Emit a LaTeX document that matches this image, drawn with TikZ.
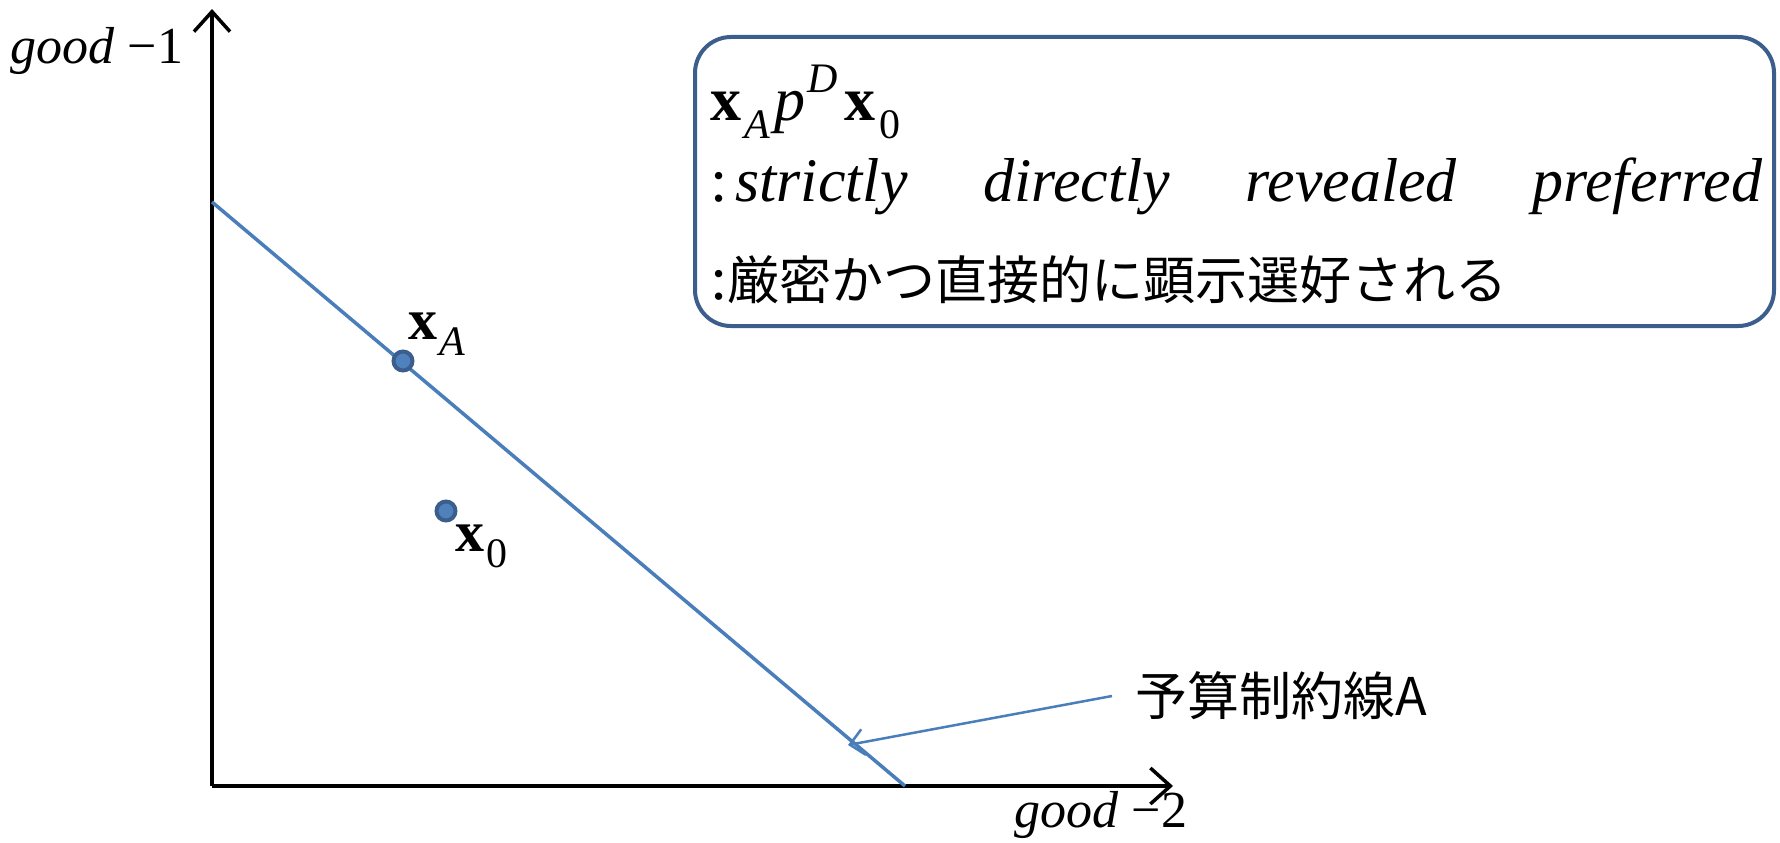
\documentclass[tikz,border=0pt]{standalone}
\usepackage{fontspec}
\setmainfont{Liberation Serif}
\newfontfamily\cjk{Noto Sans CJK JP}
\usetikzlibrary{arrows.meta}
\definecolor{lineblue}{HTML}{4A7EBB}
\definecolor{darkblue}{HTML}{3B5E8C}
\definecolor{ptfill}{HTML}{4F81BD}
\tikzset{
  axis/.style={line width=3.5pt, -{Straight Barb[length=20pt,width=36pt,line width=3.5pt]}},
  budget/.style={line width=3.5pt, lineblue},
  pointer/.style={line width=2.5pt, lineblue, -{Straight Barb[length=14pt,width=26pt,line width=2.5pt]}},
  pt/.style={circle, fill=ptfill, draw=darkblue, line width=4pt, minimum size=19pt, inner sep=0pt},
  lbl/.style={inner sep=0pt, font=\fontsize{52}{60}\selectfont},
  boxtxt/.style={inner sep=0pt, anchor=west, font=\fontsize{62}{70}\selectfont},
}
\newcommand{\vx}{\textbf{x}}
\newcommand{\sbs}[3]{\raisebox{#1}{\fontsize{#2}{#2}\selectfont #3}}
\begin{document}
\begin{tikzpicture}[x=1pt,y=-1pt]
\useasboundingbox (0,0) rectangle (1780,843);
% axes
\coordinate (O) at (212,786);
\coordinate (ytip) at (212,9);
\coordinate (xtip) at (1173,786);
\draw[axis] (O) -- (ytip);
\draw[axis] (O) -- (xtip);
\node[lbl] (g1) at (97,51) {\textit{good} −1};
\node[lbl] (g2) at (1101,815) {\textit{good} −2};
% budget line
\coordinate (b1) at (212,202);
\coordinate (b2) at (905,786);
\draw[budget] (b1) -- (b2);
% points
\node[pt] (xA) at (403,361) {};
\node[pt] (x0) at (446,511) {};
\node[lbl, font=\fontsize{58}{60}\selectfont] (xAl) at (437,334) {\vx\kern2pt\sbs{-16pt}{42}{\itshape A}};
\node[lbl, font=\fontsize{58}{60}\selectfont] (x0l) at (481,546) {\vx\kern2pt\sbs{-16pt}{42}{0}};
% pointer
\node[lbl, anchor=west, font=\cjk\fontsize{52}{56}\selectfont] (bl) at (1135,696) {予算制約線A};
\coordinate (pstart) at (1112,696);
\coordinate (pend) at (848,745);
\draw[pointer] (pstart) -- (pend);
% box
\draw[darkblue, line width=4pt, rounded corners=36pt] (695,37) rectangle (1774,326);
\node[boxtxt] (t1) at (710,102) {\vx\kern3pt\sbs{-18pt}{42}{\itshape A}\kern5pt\textit{p}\kern2pt\sbs{28pt}{42}{\itshape D}\kern6pt\vx\kern4pt\sbs{-18pt}{42}{0}};
\node[boxtxt] (t2) at (710,186) {\makebox[1052pt][s]{:\kern8pt\textit{strictly}\hfill\textit{directly}\hfill\textit{revealed}\hfill\textit{preferred}}};
\node[boxtxt] (t3) at (710,280) {:\cjk\fontsize{52}{60}\selectfont 厳密かつ直接的に顕示選好される};
\end{tikzpicture}
\end{document}
